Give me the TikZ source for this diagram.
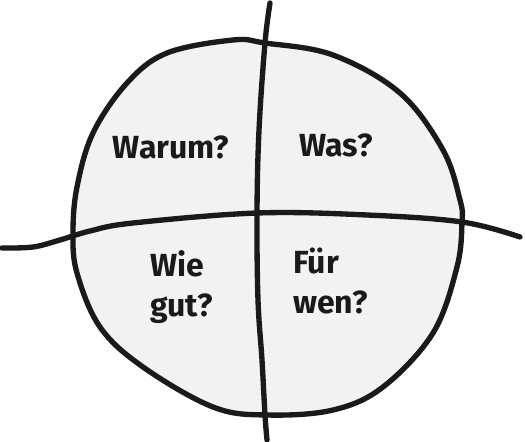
\documentclass[tikz,border=0pt]{standalone}
\usepackage{fontspec}
\setmainfont{Fira Sans}
\definecolor{quadfill}{RGB}{242,242,242}
\definecolor{ink}{RGB}{26,26,26}
\begin{document}
\begin{tikzpicture}[x=0.75pt,y=-0.75pt,
  sketch/.style={draw=ink,line width=4pt,line cap=round,line join=round},
  label/.style={font=\fontsize{24}{30}\selectfont\bfseries,text=ink,inner sep=0pt,align=left}]
\useasboundingbox (0,0) rectangle (525,442);
\fill[white] (0,0) rectangle (525,442);
% circle
\draw[sketch,fill=quadfill] plot[smooth cycle,tension=0.6] coordinates {
 (233,40) (265,43) (333,55) (400,93) (443,150) (460,200) (462,222) (457,267)
 (433,333) (383,387) (333,410) (267,415) (213,407) (143,367) (100,327)
 (77,273) (73,233) (77,187) (93,133) (127,83) (167,53)};
% vertical line
\draw[sketch] plot[smooth,tension=0.6] coordinates {
 (270,3) (265,43) (259,130) (257,213) (258,300) (262,360) (265,415) (267,440)};
% horizontal line
\draw[sketch] plot[smooth,tension=0.6] coordinates {
 (2,248) (33,247) (60,240) (90,231) (133,223) (257,213) (367,215) (462,222) (520,237)};
% labels
\node[label] (warum) at (171,147) {Warum?};
\node[label] (was) at (336,145) {Was?};
\node[label,anchor=north west] (wie) at (150,250) {Wie\\gut?};
\node[label,anchor=north west] (fuer) at (293,248) {Für\\wen?};
\end{tikzpicture}
\end{document}
